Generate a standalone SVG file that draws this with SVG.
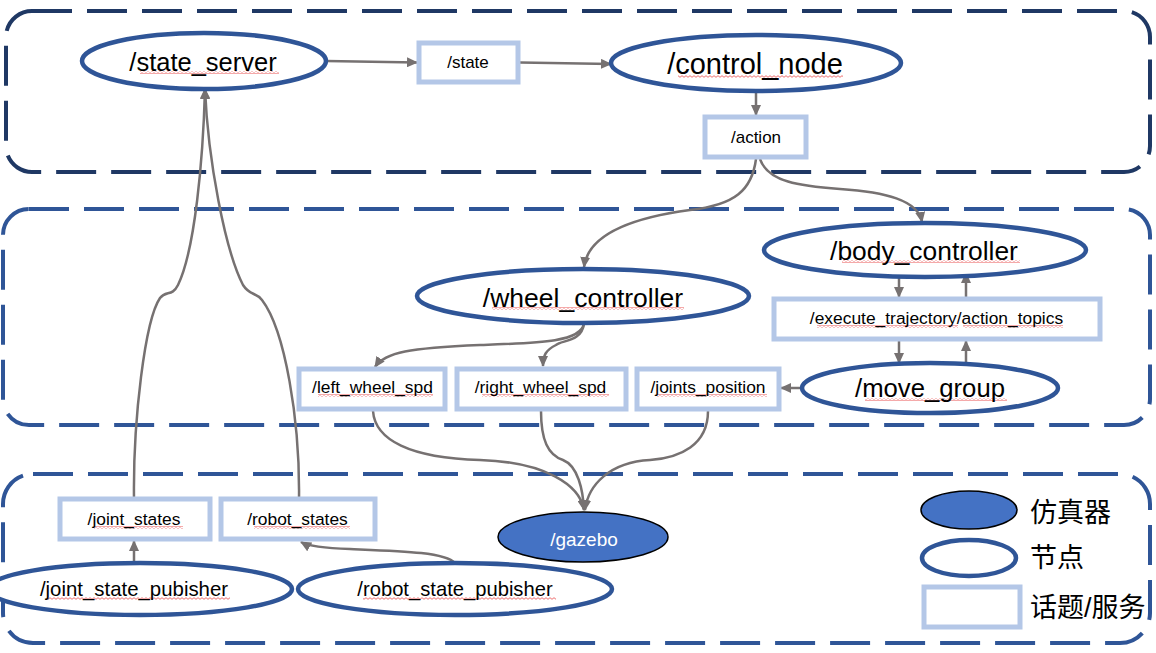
<svg xmlns="http://www.w3.org/2000/svg" width="1156" height="653" viewBox="0 0 1156 653">
<defs>
<style>
.grp1{fill:none;stroke:#1F3864;stroke-width:4;stroke-dasharray:40 15}
.grp2{fill:none;stroke:#2F5597;stroke-width:4;stroke-dasharray:40 15}
.node{fill:#fff;stroke:#2F5597;stroke-width:4.5}
.topic{fill:#fff;stroke:#B4C7E7;stroke-width:5}
.sim{fill:#4472C4;stroke:#000;stroke-width:1.5}
.t{font-family:"Liberation Sans",Arial,sans-serif;fill:#000;text-anchor:middle}
.cjk{font-family:"Liberation Sans","Noto Sans CJK SC",sans-serif;fill:#000;font-size:27px}
.edge{fill:none;stroke:#767171;stroke-width:2.5;marker-end:url(#arr)}
.wave{fill:url(#wavy)}
</style>
<marker id="arr" markerUnits="userSpaceOnUse" markerWidth="11" markerHeight="10" refX="10" refY="5" orient="auto">
<path d="M0,0 L11,5 L0,10 z" fill="#767171"/>
</marker>
<pattern id="wavy" width="4" height="3" patternUnits="userSpaceOnUse">
<path d="M0,2.3 L2,0.7 L4,2.3" fill="none" stroke="#E53030" stroke-width="0.7"/>
</pattern>
</defs>

<g id="groups">
<rect class="grp1" x="6" y="11" width="1144" height="161" rx="26"/>
<rect class="grp2" x="3" y="209" width="1147" height="216" rx="26"/>
<rect class="grp2" x="3" y="474" width="1147" height="169" rx="30"/>
</g>

<g id="connectors">
<path class="edge" d="M326,61 L417,62.5"/>
<path class="edge" d="M520,62.5 L611,64"/>
<path class="edge" d="M756,93 L756,115"/>
<path class="edge" d="M756,159 C752,190 735,205 690,210 C630,218 588,235 584,267"/>
<path class="edge" d="M760,159 C768,182 800,186 840,189 C885,192 918,200 922,222"/>
<path class="edge" d="M899,278 L899,297"/>
<path class="edge" d="M966,297 L966,273"/>
<path class="edge" d="M899,341 L899,363"/>
<path class="edge" d="M966,363 L966,341"/>
<path class="edge" d="M802,388 L781,388"/>
<path class="edge" d="M584,323 C582,342 540,343 480,345 C410,348 385,352 375,367"/>
<path class="edge" d="M584,323 C582,342 562,340 556,345 C546,350 543,355 543,366"/>
<path class="edge" d="M373,411 C375,440 410,458 480,460 C545,462 580,485 584,510"/>
<path class="edge" d="M541,411 C541,440 548,455 563,460 C578,466 583,490 584,510"/>
<path class="edge" d="M708,411 C708,445 680,458 650,460 C610,462 588,485 585,510"/>
<path class="edge" d="M134,563 L134,541"/>
<path class="edge" d="M455,563 C445,552 400,551 350,549 C320,548 308,546 301,542"/>
<path class="edge" d="M134,499 C133,420 145,320 160,298 C166,290 172,297 178,285 C195,250 203,160 205,89"/>
<path class="edge" d="M299,499 C300,420 285,330 262,300 C256,292 250,296 243,285 C225,250 208,160 205,89"/>
</g>

<g id="state_server">
<ellipse class="node" cx="204" cy="61" rx="122" ry="28"/>
<rect class="wave" x="140" y="71" width="139" height="3"/>
<text class="t" x="203" y="71" font-size="25.5">/state_server</text>
</g>
<g id="state">
<rect class="topic" x="419" y="43" width="99" height="39"/>
<text class="t" x="468" y="68" font-size="17">/state</text>
</g>
<g id="control_node">
<ellipse class="node" cx="756" cy="63" rx="145" ry="28"/>
<rect class="wave" x="678" y="75" width="165" height="3"/>
<text class="t" x="755" y="74" font-size="29">/control_node</text>
</g>
<g id="action">
<rect class="topic" x="705" y="117" width="101" height="40"/>
<text class="t" x="756" y="143" font-size="17">/action</text>
</g>
<g id="body_controller">
<ellipse class="node" cx="925" cy="250" rx="161" ry="27"/>
<rect class="wave" x="842" y="260" width="178" height="3"/>
<text class="t" x="924" y="260" font-size="26.4">/body_controller</text>
</g>
<g id="execute_trajectory">
<rect class="topic" x="774" y="299" width="326" height="40"/>
<rect class="wave" x="817" y="325" width="141" height="3"/>
<rect class="wave" x="963" y="325" width="100" height="3"/>
<text class="t" x="936.5" y="324" font-size="17.4">/execute_trajectory/action_topics</text>
</g>
<g id="wheel_controller">
<ellipse class="node" cx="583" cy="296" rx="166" ry="27"/>
<rect class="wave" x="492" y="307" width="192" height="3"/>
<text class="t" x="583" y="307" font-size="26.5">/wheel_controller</text>
</g>
<g id="move_group">
<ellipse class="node" cx="930" cy="388" rx="128" ry="25"/>
<rect class="wave" x="865" y="398" width="142" height="3"/>
<text class="t" x="930" y="397" font-size="25.7">/move_group</text>
</g>
<g id="left_wheel_spd">
<rect class="topic" x="299" y="369" width="146" height="40"/>
<rect class="wave" x="318" y="394" width="115" height="3"/>
<text class="t" x="372.5" y="393" font-size="17.4">/left_wheel_spd</text>
</g>
<g id="right_wheel_spd">
<rect class="topic" x="457" y="369" width="169" height="40"/>
<rect class="wave" x="482" y="394" width="127" height="3"/>
<text class="t" x="540.5" y="393" font-size="17.4">/right_wheel_spd</text>
</g>
<g id="joints_position">
<rect class="topic" x="637" y="369" width="142" height="40"/>
<rect class="wave" x="657" y="394" width="110" height="3"/>
<text class="t" x="708" y="393" font-size="17.4">/joints_position</text>
</g>
<g id="gazebo">
<ellipse class="sim" cx="583" cy="537" rx="85" ry="25"/>
<text class="t" x="584" y="546" font-size="19" style="fill:#fff">/gazebo</text>
</g>
<g id="joint_states">
<rect class="topic" x="60" y="499" width="150" height="40"/>
<rect class="wave" x="94" y="526" width="89" height="3"/>
<text class="t" x="134" y="525" font-size="17.4">/joint_states</text>
</g>
<g id="robot_states">
<rect class="topic" x="221" y="499" width="154" height="40"/>
<rect class="wave" x="254" y="526" width="96" height="3"/>
<text class="t" x="297.5" y="525" font-size="17.4">/robot_states</text>
</g>
<g id="joint_state_pubisher">
<ellipse class="node" cx="140" cy="589" rx="152" ry="26"/>
<rect class="wave" x="48" y="597" width="182" height="3"/>
<text class="t" x="134" y="596" font-size="20.4">/joint_state_pubisher</text>
</g>
<g id="robot_state_pubisher">
<ellipse class="node" cx="455" cy="589" rx="157" ry="26"/>
<rect class="wave" x="363" y="597" width="193" height="3"/>
<text class="t" x="455" y="596" font-size="20.2">/robot_state_pubisher</text>
</g>

<g id="legend">
<ellipse class="sim" cx="969" cy="510" rx="48" ry="19"/>
<text class="cjk" x="1030" y="522">仿真器</text>
<ellipse class="node" cx="969" cy="558" rx="47" ry="18"/>
<text class="cjk" x="1030" y="567">节点</text>
<rect class="topic" x="924" y="587" width="96" height="40"/>
<text class="cjk" x="1030" y="617">话题/服务</text>
</g>
</svg>
